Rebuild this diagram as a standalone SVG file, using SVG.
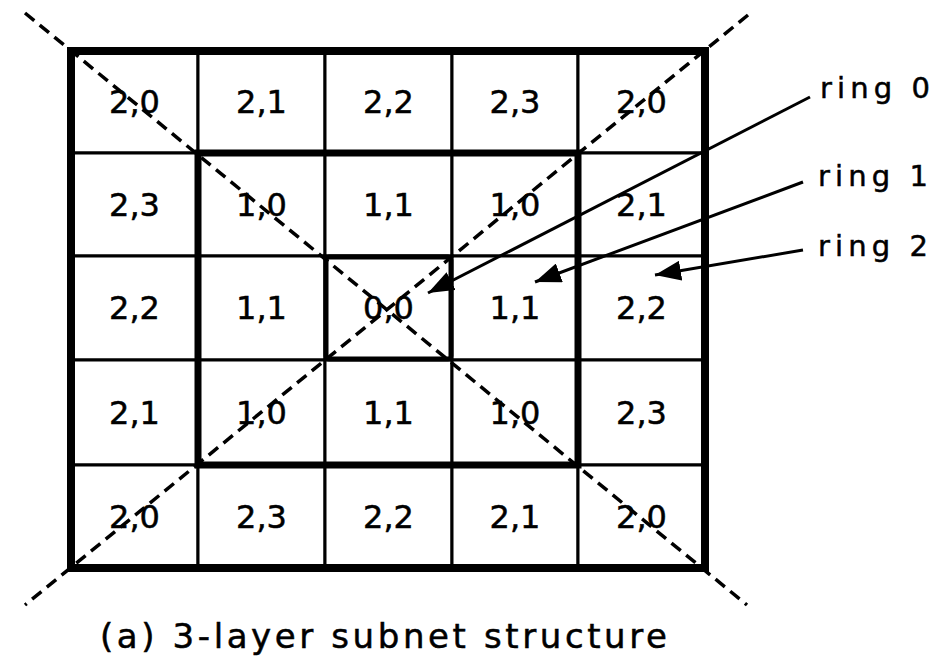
<svg xmlns="http://www.w3.org/2000/svg" width="939" height="668" viewBox="0 0 939 668">
<style>
.cell rect{fill:#fff;stroke:#000;stroke-width:3}
.cell text{font-family:"DejaVu Sans",Verdana,sans-serif;font-size:32px;text-anchor:middle;fill:#000;stroke:#000;stroke-width:0.5}
.lbl{font-family:"DejaVu Sans",Verdana,sans-serif;font-size:29px;fill:#000;stroke:#000;stroke-width:0.5}
.diag{fill:none;stroke:#000;stroke-width:3.5;stroke-dasharray:12 7}
.arrow{fill:none;stroke:#000;stroke-width:3;marker-end:url(#ah)}
</style>
<defs>
<marker id="ah" markerUnits="userSpaceOnUse" markerWidth="28" markerHeight="20" refX="26" refY="10" orient="auto">
<path d="M0,0 L26,10 L0,20 z" fill="#000"/>
</marker>
</defs>
<rect width="939" height="668" fill="#fff"/>
<g id="cells">
<g id="c00" class="cell"><rect x="71" y="51" width="127" height="102"/><text x="134.5" y="113">2,0</text></g>
<g id="c01" class="cell"><rect x="198" y="51" width="127" height="102"/><text x="261.5" y="113">2,1</text></g>
<g id="c02" class="cell"><rect x="325" y="51" width="127" height="102"/><text x="388.5" y="113">2,2</text></g>
<g id="c03" class="cell"><rect x="452" y="51" width="126" height="102"/><text x="515" y="113">2,3</text></g>
<g id="c04" class="cell"><rect x="578" y="51" width="127" height="102"/><text x="641.5" y="113">2,0</text></g>

<g id="c10" class="cell"><rect x="71" y="153" width="127" height="103"/><text x="134.5" y="215.5">2,3</text></g>
<g id="c11" class="cell"><rect x="198" y="153" width="127" height="103"/><text x="261.5" y="215.5">1,0</text></g>
<g id="c12" class="cell"><rect x="325" y="153" width="127" height="103"/><text x="388.5" y="215.5">1,1</text></g>
<g id="c13" class="cell"><rect x="452" y="153" width="126" height="103"/><text x="515" y="215.5">1,0</text></g>
<g id="c14" class="cell"><rect x="578" y="153" width="127" height="103"/><text x="641.5" y="215.5">2,1</text></g>

<g id="c20" class="cell"><rect x="71" y="256" width="127" height="104"/><text x="134.5" y="319">2,2</text></g>
<g id="c21" class="cell"><rect x="198" y="256" width="127" height="104"/><text x="261.5" y="319">1,1</text></g>
<g id="c22" class="cell"><rect x="325" y="256" width="127" height="104"/><text x="388.5" y="319">0,0</text></g>
<g id="c23" class="cell"><rect x="452" y="256" width="126" height="104"/><text x="515" y="319">1,1</text></g>
<g id="c24" class="cell"><rect x="578" y="256" width="127" height="104"/><text x="641.5" y="319">2,2</text></g>

<g id="c30" class="cell"><rect x="71" y="360" width="127" height="105"/><text x="134.5" y="423.5">2,1</text></g>
<g id="c31" class="cell"><rect x="198" y="360" width="127" height="105"/><text x="261.5" y="423.5">1,0</text></g>
<g id="c32" class="cell"><rect x="325" y="360" width="127" height="105"/><text x="388.5" y="423.5">1,1</text></g>
<g id="c33" class="cell"><rect x="452" y="360" width="126" height="105"/><text x="515" y="423.5">1,0</text></g>
<g id="c34" class="cell"><rect x="578" y="360" width="127" height="105"/><text x="641.5" y="423.5">2,3</text></g>

<g id="c40" class="cell"><rect x="71" y="465" width="127" height="103"/><text x="134.5" y="527.5">2,0</text></g>
<g id="c41" class="cell"><rect x="198" y="465" width="127" height="103"/><text x="261.5" y="527.5">2,3</text></g>
<g id="c42" class="cell"><rect x="325" y="465" width="127" height="103"/><text x="388.5" y="527.5">2,2</text></g>
<g id="c43" class="cell"><rect x="452" y="465" width="126" height="103"/><text x="515" y="527.5">2,1</text></g>
<g id="c44" class="cell"><rect x="578" y="465" width="127" height="103"/><text x="641.5" y="527.5">2,0</text></g>
</g>
<g id="rings" fill="none" stroke="#000">
<rect id="ring2" x="71" y="51" width="634" height="517" stroke-width="8"/>
<rect id="ring1" x="198" y="153" width="380" height="312" stroke-width="7"/>
<rect id="ring0" x="326" y="257" width="125" height="102" rx="3" stroke-width="5"/>
</g>
<g id="diagonals">
<line class="diag" x1="25" y1="13" x2="747" y2="605"/>
<line class="diag" x1="748" y1="15" x2="25" y2="605"/>
</g>
<g id="connectors">
<line class="arrow" x1="810" y1="97" x2="428" y2="293"/>
<line class="arrow" x1="803" y1="182" x2="535" y2="282"/>
<line class="arrow" x1="803" y1="250" x2="655" y2="275"/>
</g>
<g id="labels">
<text class="lbl" x="820" y="98" textLength="110" lengthAdjust="spacing">ring 0</text>
<text class="lbl" x="818" y="186" textLength="110" lengthAdjust="spacing">ring 1</text>
<text class="lbl" x="818" y="256" textLength="110" lengthAdjust="spacing">ring 2</text>
<text class="lbl" x="100" y="648" style="font-size:34px" textLength="567" lengthAdjust="spacing">(a) 3-layer subnet structure</text>
</g>
</svg>
